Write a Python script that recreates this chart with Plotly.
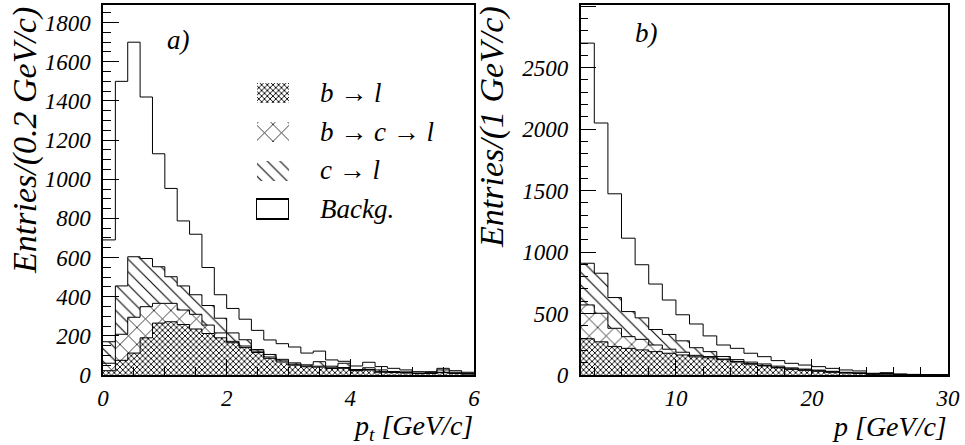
import plotly.graph_objects as go

# ---------------- data ----------------
# left panel: p_t, 30 bins of 0.2 GeV/c from 0 to 6
pt_edges = [round(0.2 * i, 1) for i in range(31)]
pt_b_l   = [22, 75, 112, 190, 265, 272, 258, 235, 212, 190, 165, 140, 115, 85, 66,
            50, 42, 40, 33, 34, 22, 25, 14, 13, 10, 7, 8, 12, 8, 5]
pt_b_c_l = [38, 133, 183, 159, 101, 94, 74, 75, 43, 25, 7, 8, 7, 7, 6,
            5, 4, 5, 4, 4, 2, 3, 3, 2, 2, 1, 1, 2, 1, 1]
pt_c_l   = [110, 247, 309, 246, 187, 136, 123, 100, 100, 75, 43, 32, 8, 13, 8,
            7, 6, 23, 8, 22, 4, 9, 9, 3, 4, 2, 3, 12, 5, 3]
pt_bkg   = [520, 1045, 1096, 825, 577, 451, 332, 309, 194, 120, 125, 105, 98, 74, 80,
            81, 60, 54, 32, 10, 18, 28, 17, 16, 10, 7, 5, 8, 8, 5]

# right panel: p, 27 bins of 1 GeV/c from 3 to 30
p_edges = list(range(3, 31))
p_b_l   = [295, 270, 231, 217, 204, 190, 177, 163, 148, 140, 125, 105, 88, 74, 58,
           46, 38, 30, 22, 16, 12, 6, 7, 3, 2, 1, 0]
p_b_c_l = [275, 232, 149, 95, 86, 54, 33, 22, 12, 10, 5, 5, 4, 4, 4,
           4, 4, 4, 3, 2, 2, 2, 2, 1, 1, 0, 1]
p_c_l   = [339, 326, 250, 204, 175, 126, 120, 93, 62, 40, 20, 15, 13, 12, 10,
           8, 6, 6, 5, 4, 4, 2, 3, 2, 1, 1, 0]
p_bkg   = [1791, 1222, 844, 597, 432, 370, 280, 212, 193, 128, 94, 92, 72, 59, 45,
           37, 33, 28, 24, 19, 15, 4, 7, 2, 1, 1, 1]

legend_labels = ["b \u2192 l", "b \u2192 c \u2192 l", "c \u2192 l", "Backg."]
pt_ticks = [0, 2, 4, 6]
p_ticks = [10, 20, 30]

# ---------------- styling ----------------
W, H = 965, 445
SERIF = "Liberation Serif, Times New Roman, serif"
PAT_DENSE = dict(shape="x", size=4, solidity=0.4, fgcolor="black", fgopacity=1,
                 bgcolor="white")
PAT_CROSS = dict(shape="x", size=12, solidity=0.12, fgcolor="black", fgopacity=1,
                 bgcolor="white")
PAT_DIAG = dict(shape="\\", size=9, solidity=0.12, fgcolor="black", fgopacity=1,
                bgcolor="white")
PAT_NONE = dict(shape="", bgcolor="white")
patterns = [PAT_DENSE, PAT_CROSS, PAT_DIAG, PAT_NONE]


def px_x(p):
    return p / W


def px_y(p):
    return 1 - p / H


fig = go.Figure()


def add_panel(edges, comps, xa, ya):
    centers = [(edges[i] + edges[i + 1]) / 2 for i in range(len(edges) - 1)]
    widths = [edges[i + 1] - edges[i] for i in range(len(edges) - 1)]
    for vals, pat in zip(comps, patterns):
        fig.add_trace(go.Bar(
            x=centers, y=vals, width=widths, xaxis=xa, yaxis=ya,
            marker=dict(color="white", pattern=pat, line=dict(width=0)),
            showlegend=False, hoverinfo="skip"))
    cum = [0] * len(centers)
    for vals in comps:
        cum = [c + v for c, v in zip(cum, vals)]
        fig.add_trace(go.Scatter(
            x=edges, y=cum + [cum[-1]], mode="lines", line_shape="hv",
            line=dict(color="black", width=1), xaxis=xa, yaxis=ya,
            showlegend=False, hoverinfo="skip"))


add_panel(pt_edges, [pt_b_l, pt_b_c_l, pt_c_l, pt_bkg], "x", "y")
add_panel(p_edges, [p_b_l, p_b_c_l, p_c_l, p_bkg], "x2", "y2")

# legend swatches drawn as small bars on their own axis
for lab, pat in zip(legend_labels, patterns):
    fig.add_trace(go.Bar(
        x=[1], y=[lab], orientation="h", width=0.52, xaxis="x3", yaxis="y3",
        marker=dict(color="white", pattern=pat,
                    line=dict(width=1.2 if lab == "Backg." else 0, color="black")),
        showlegend=False, hoverinfo="skip"))

tickfont = dict(family=SERIF, size=23, color="black", style="italic")
common_axis = dict(showgrid=False, zeroline=False, showline=True, linecolor="black",
                   linewidth=1.5, mirror=True, ticks="inside", tickcolor="black",
                   tickwidth=1, ticklen=16, tickfont=tickfont, automargin=False)

left_dom_x = [px_x(103), px_x(474)]
right_dom_x = [px_x(580.7), px_x(948)]
dom_y = [px_y(375), px_y(5)]

fig.update_layout(
    width=W, height=H, margin=dict(l=0, r=0, t=0, b=0, autoexpand=False),
    paper_bgcolor="white", plot_bgcolor="white",
    barmode="stack", bargap=0, showlegend=False,
    xaxis=dict(domain=left_dom_x, range=[0, 6], anchor="y", tickvals=pt_ticks,
               ticklabelstandoff=2,
               minor=dict(dtick=0.5, ticks="inside", ticklen=8, tickcolor="black"),
               **common_axis),
    yaxis=dict(domain=dom_y, range=[0, 1890], anchor="x", dtick=200,
               ticklabelstandoff=6,
               minor=dict(dtick=50, ticks="inside", ticklen=8, tickcolor="black"),
               **common_axis),
    xaxis2=dict(domain=right_dom_x, range=[3, 30], anchor="y2", tickvals=p_ticks,
                ticklabelstandoff=2,
                minor=dict(dtick=2, tick0=0, ticks="inside", ticklen=8, tickcolor="black"),
                **common_axis),
    yaxis2=dict(domain=dom_y, range=[0, 3010], anchor="x2", dtick=500,
                ticklabelstandoff=6,
                minor=dict(dtick=100, ticks="inside", ticklen=8, tickcolor="black"),
                **common_axis),
    xaxis3=dict(domain=[px_x(256), px_x(290)], range=[-0.03, 1.03], anchor="y3",
                visible=False, fixedrange=True, automargin=False),
    yaxis3=dict(domain=[px_y(228.5), px_y(73.5)], range=[3.5, -0.5], anchor="x3",
                visible=False, fixedrange=True, type="category", automargin=False,
                categoryorder="array", categoryarray=legend_labels),
)

ann_font = dict(family=SERIF, color="black", style="italic")
annotations = []
row_y = [93, 131.7, 170.4, 209]
for lab, yy in zip(legend_labels, row_y):
    annotations.append(dict(text=lab, x=px_x(318), y=px_y(yy), xref="paper", yref="paper",
                            xanchor="left", yanchor="middle", showarrow=False,
                            font=dict(size=27, **ann_font)))
annotations += [
    dict(text="a)", x=px_x(165), y=px_y(40), xref="paper", yref="paper", xanchor="left",
         yanchor="middle", showarrow=False, font=dict(size=27, **ann_font)),
    dict(text="b)", x=px_x(633), y=px_y(33), xref="paper", yref="paper", xanchor="left",
         yanchor="middle", showarrow=False, font=dict(size=27, **ann_font)),
    dict(text="Entries/(0.2 GeV/c)", x=px_x(25), y=px_y(141), xref="paper", yref="paper",
         xanchor="center", yanchor="middle", textangle=-90, showarrow=False,
         font=dict(size=34, **ann_font)),
    dict(text="Entries/(1 GeV/c)", x=px_x(492), y=px_y(127), xref="paper", yref="paper",
         xanchor="center", yanchor="middle", textangle=-90, showarrow=False,
         font=dict(size=34, **ann_font)),
    dict(text="p<sub>t</sub> [GeV/c]", x=px_x(475), y=px_y(427), xref="paper", yref="paper",
         xanchor="right", yanchor="middle", showarrow=False, font=dict(size=28, **ann_font)),
    dict(text="p [GeV/c]", x=px_x(949), y=px_y(426), xref="paper", yref="paper",
         xanchor="right", yanchor="middle", showarrow=False, font=dict(size=28, **ann_font)),
]
fig.update_layout(annotations=annotations)

# remove the default page margin so the 965x445 figure fills the window exactly
fig.write_html(
    "out.html",
    config={"displayModeBar": False},
    post_script="document.body.style.margin='0';"
                "document.documentElement.style.overflow='hidden';",
)
